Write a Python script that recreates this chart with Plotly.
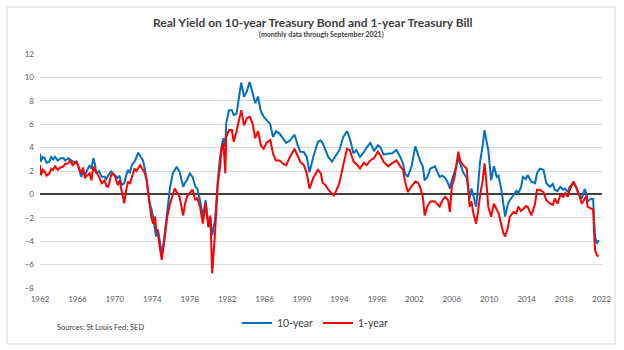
import plotly.graph_objects as go

# ---- data (x in decimal years) ----
ten_year_t = [1962.0,1962.1,1962.3,1962.5,1962.7,1963.0,1963.2,1963.4,1963.6,1963.9,1964.2,1964.5,1964.7,1965.0,1965.2,1965.5,1965.9,
 1966.1,1966.4,1966.6,1966.8,1967.0,1967.3,1967.5,1967.7,1967.9,1968.0,1968.3,1968.6,1968.9,1969.1,1969.3,1969.6,1969.8,
 1970.0,1970.3,1970.5,1970.7,1971.0,1971.2,1971.4,1971.6,1971.8,1972.1,1972.3,1972.5,1972.7,1973.0,1973.2,1973.4,1973.7,1973.9,
 1974.1,1974.4,1974.6,1974.8,1975.0,1975.2,1975.4,1975.6,1975.9,1976.2,1976.4,1976.6,1976.9,1977.1,1977.3,1977.5,1977.7,
 1978.0,1978.3,1978.6,1978.8,1979.1,1979.4,1979.7,1980.0,1980.2,1980.4,1980.7,1980.9,1981.0,1981.2,1981.4,1981.6,1981.8,1981.9,
 1982.2,1982.5,1982.7,1983.0,1983.3,1983.5,1983.8,1984.1,1984.4,1984.7,1985.0,1985.3,1985.6,1985.9,1986.2,1986.6,1986.9,
 1987.2,1987.6,1988.0,1988.3,1988.7,1989.2,1989.5,1989.8,1990.2,1990.5,1990.8,1991.2,1991.7,1992.0,1992.2,1992.5,1992.8,
 1993.2,1993.7,1994.0,1994.4,1994.8,1995.1,1995.5,1995.8,1996.2,1996.6,1996.9,1997.3,1997.7,1998.1,1998.4,1998.7,1999.2,
 1999.6,2000.1,2000.5,2000.8,2001.0,2001.3,2001.7,2002.1,2002.4,2002.6,2002.9,2003.1,2003.4,2003.7,2004.2,2004.7,2005.0,
 2005.3,2005.6,2005.8,2006.0,2006.3,2006.7,2006.9,2007.2,2007.6,2007.9,2008.1,2008.3,2008.6,2008.8,2009.0,2009.3,2009.5,
 2009.7,2009.9,2010.2,2010.5,2010.8,2011.0,2011.3,2011.5,2011.7,2012.0,2012.2,2012.6,2012.9,2013.1,2013.4,2013.6,2013.9,
 2014.1,2014.5,2014.9,2015.1,2015.4,2015.8,2016.1,2016.5,2016.8,2017.0,2017.3,2017.6,2017.9,2018.1,2018.4,2018.6,2019.0,
 2019.3,2019.5,2019.9,2020.2,2020.4,2020.5,2020.9,2021.1,2021.3,2021.5,2021.7]
ten_year = [3.5,2.8,3.2,3.1,2.7,2.8,3.2,3.0,3.2,2.9,3.1,3.1,2.9,3.1,3.0,2.8,2.8,
 2.4,1.5,2.0,1.65,2.0,2.5,2.2,3.1,2.5,1.8,2.0,1.5,1.5,1.3,1.65,1.95,1.7,
 1.65,1.4,1.6,0.8,0.95,1.6,2.1,1.8,2.5,2.8,3.2,3.56,3.3,2.9,2.2,1.2,-0.76,-1.2,
 -2.0,-3.6,-3.0,-4.0,-5.0,-4.2,-2.8,-1.05,0.65,1.8,2.1,2.37,1.95,1.4,0.65,1.0,1.2,
 1.8,1.5,0.65,0.5,-0.5,-1.9,-0.5,-2.8,-2.0,-3.5,-2.2,0.65,1.2,2.9,4.1,4.8,4.1,6.1,
 7.2,7.2,6.8,6.9,8.35,9.55,8.35,8.8,9.6,8.65,7.8,8.35,7.1,6.65,6.4,6.0,4.9,
 5.4,5.2,4.7,4.4,4.6,5.1,4.3,3.65,3.6,3.2,1.9,3.2,4.5,4.6,4.4,3.8,3.2,
 2.8,3.4,3.8,4.9,5.4,4.8,3.5,3.8,3.2,3.6,4.0,4.4,3.7,4.2,4.0,3.4,3.5,
 3.5,3.8,3.2,2.6,1.8,1.5,2.4,4.1,3.4,2.9,2.4,1.2,1.5,2.2,2.4,1.5,1.6,
 1.4,0.95,0.5,1.2,1.9,3.1,2.6,1.9,1.4,-0.35,0.5,-0.05,-1.05,0.6,2.65,4.2,5.5,
 4.6,3.8,1.2,2.4,1.5,1.6,0.4,-0.6,-1.9,-0.8,-0.5,-0.05,0.3,0.1,0.6,1.5,1.3,
 1.65,1.1,0.95,1.8,2.2,2.1,0.95,0.65,0.9,0.4,0.3,0.65,0.4,0.5,0.2,0.65,0.95,
 0.6,0.1,-0.35,0.45,0.0,-0.6,-0.35,-0.4,-3.6,-4.2,-3.9]

one_year_t = [1962.0,1962.1,1962.3,1962.5,1962.7,1963.0,1963.2,1963.4,1963.6,1963.9,1964.2,1964.5,1964.7,1965.0,1965.2,1965.5,1965.9,
 1966.1,1966.4,1966.6,1966.8,1967.0,1967.3,1967.5,1967.7,1967.9,1968.0,1968.3,1968.6,1968.9,1969.1,1969.3,1969.6,1969.8,
 1970.0,1970.3,1970.5,1970.7,1971.0,1971.2,1971.4,1971.6,1971.8,1972.1,1972.3,1972.5,1972.7,1973.0,1973.2,1973.4,1973.7,1973.9,
 1974.1,1974.3,1974.4,1974.6,1974.8,1975.0,1975.2,1975.4,1975.6,1975.9,1976.2,1976.4,1976.6,1976.9,1977.1,1977.3,1977.5,1977.7,
 1978.0,1978.3,1978.6,1978.8,1979.1,1979.4,1979.7,1980.0,1980.2,1980.4,1980.7,1980.9,1981.0,1981.2,1981.4,1981.6,1981.8,1981.9,
 1982.2,1982.5,1982.7,1983.0,1983.3,1983.5,1983.8,1984.1,1984.4,1984.7,1985.0,1985.3,1985.6,1985.9,1986.2,1986.6,1986.9,
 1987.2,1987.6,1988.0,1988.3,1988.7,1989.2,1989.5,1989.8,1990.2,1990.5,1990.8,1991.2,1991.7,1992.0,1992.2,1992.5,1992.8,
 1993.2,1993.4,1993.7,1994.0,1994.4,1994.8,1995.1,1995.5,1995.8,1996.2,1996.6,1996.9,1997.3,1997.7,1998.1,1998.4,1998.7,1999.2,
 1999.6,2000.1,2000.5,2000.8,2001.0,2001.3,2001.7,2002.1,2002.4,2002.6,2002.9,2003.1,2003.4,2003.7,2004.2,2004.7,2005.0,
 2005.3,2005.6,2005.8,2006.0,2006.3,2006.7,2006.9,2007.2,2007.6,2007.9,2008.1,2008.3,2008.6,2008.8,2009.0,2009.3,2009.5,
 2009.7,2009.9,2010.2,2010.5,2010.8,2011.0,2011.3,2011.5,2011.7,2012.0,2012.2,2012.6,2012.9,2013.1,2013.4,2013.6,2013.9,
 2014.1,2014.5,2014.9,2015.1,2015.4,2015.8,2016.1,2016.5,2016.8,2017.0,2017.3,2017.6,2017.9,2018.1,2018.4,2018.6,2019.0,
 2019.3,2019.5,2019.9,2020.2,2020.4,2020.5,2020.9,2021.1,2021.3,2021.5,2021.7]
one_year = [2.5,1.65,2.1,1.95,1.6,1.8,2.2,2.1,2.4,2.1,2.3,2.4,2.6,2.65,2.9,2.5,2.8,
 2.4,1.8,2.3,1.4,1.6,1.8,1.2,2.4,2.0,1.95,1.5,0.95,1.2,0.7,0.65,1.65,1.8,
 1.6,0.8,1.2,0.4,-0.76,0.3,1.1,0.9,1.5,2.2,2.0,2.3,2.5,2.1,1.8,1.2,-0.5,-2.0,
 -2.5,-1.9,-3.0,-3.3,-4.5,-5.6,-4.5,-3.3,-1.9,-0.76,0.1,0.5,0.2,-0.2,-1.0,-1.8,-0.8,-0.2,
 0.1,0.4,-0.5,-0.3,-1.05,-2.5,-0.76,-2.8,-1.8,-6.75,-3.3,0.1,0.95,2.1,3.8,4.4,1.8,4.9,
 5.5,5.5,4.5,5.4,6.5,7.2,5.9,6.5,6.65,6.1,4.8,5.4,4.2,3.9,4.4,4.65,3.5,
 2.9,2.9,2.6,2.5,3.2,3.9,3.3,2.8,2.5,1.8,0.5,1.4,2.1,1.8,1.0,0.8,0.4,
 0.1,-0.1,0.4,1.0,2.5,3.9,3.8,2.8,2.6,2.2,2.7,2.5,2.9,3.1,3.65,3.3,2.8,2.4,
 2.65,2.9,2.4,2.1,1.1,0.2,0.7,1.1,1.0,0.65,-0.2,-1.8,-1.0,-0.6,-0.6,-1.05,-0.5,
 -0.2,-0.5,-1.5,0.65,1.5,3.65,2.9,2.5,2.2,-1.05,-0.6,-1.6,-2.5,-1.5,-0.2,1.2,2.65,
 1.0,-1.05,-1.9,-0.8,-1.3,-1.6,-2.6,-3.3,-3.6,-2.8,-1.9,-1.5,-1.6,-1.05,-1.4,-1.3,-1.0,
 -1.05,-1.8,-0.8,0.4,0.4,0.2,-0.5,-0.8,-0.9,-0.35,-0.8,-0.05,-0.2,0.1,-0.2,0.4,1.1,
 0.6,0.2,-0.8,-0.35,-0.1,-1.05,-1.2,-1.3,-4.75,-5.2,-5.3]

x_tick_labels = [str(y) for y in range(1962, 2023, 4)]
x_tick_vals = list(range(1962, 2023, 4))
y_tick_vals = list(range(-8, 13, 2))

FONT = "Lato"
fig = go.Figure()
fig.add_trace(go.Scatter(x=ten_year_t, y=ten_year, mode="lines", name="10-year",
                         line=dict(color="#0070C0", width=2)))
fig.add_trace(go.Scatter(x=one_year_t, y=one_year, mode="lines", name="1-year",
                         line=dict(color="#FF0000", width=2)))

fig.update_layout(
    width=624, height=350,
    margin=dict(l=40, r=22, t=54, b=62),
    paper_bgcolor="white", plot_bgcolor="white",
    font=dict(family=FONT, color="#595959"),
    showlegend=True,
    legend=dict(orientation="h", x=0.49, xanchor="center", y=-0.15, yanchor="middle",
                font=dict(size=10.5, color="#404040", family=FONT),
                itemwidth=30, tracegroupgap=0, bgcolor="rgba(0,0,0,0)"),
    xaxis=dict(range=[1962, 2022.05], tickvals=x_tick_vals, ticktext=x_tick_labels,
               showgrid=False, zeroline=False, showline=False, ticks="",
               ticklabelstandoff=5,
               tickfont=dict(size=8, color="#595959", family=FONT)),
    yaxis=dict(range=[-8, 12], tickvals=y_tick_vals, showgrid=True,
               gridcolor="#D9D9D9", gridwidth=1,
               zeroline=True, zerolinecolor="#404040", zerolinewidth=1.5,
               showline=False, ticks="", ticklabelstandoff=5,
               tickfont=dict(size=8, color="#595959", family=FONT)),
)

fig.add_annotation(text="<b>Real Yield on 10-year Treasury Bond and 1-year Treasury Bill</b>",
                   xref="paper", yref="paper", x=(313-40)/562, y=(288-22)/234,
                   xanchor="center", yanchor="middle", showarrow=False,
                   font=dict(size=12, color="#404040", family=FONT))
fig.add_annotation(text="<b>(monthly data through September 2021)</b>",
                   xref="paper", yref="paper", x=(321-40)/562, y=(288-34)/234,
                   xanchor="center", yanchor="middle", showarrow=False,
                   font=dict(size=7, color="#404040", family=FONT))
fig.add_annotation(text="Sources: St Louis Fed; SED",
                   xref="paper", yref="paper", x=(55-40)/562, y=(288-327)/234,
                   xanchor="left", yanchor="middle", showarrow=False,
                   font=dict(size=7.5, color="#404040", family=FONT))
# chart-area border
fig.add_shape(type="rect", xref="paper", yref="paper",
              x0=(7-40)/562, x1=(615-40)/562, y0=(288-344)/234, y1=(288-7)/234,
              line=dict(color="#D9D9D9", width=1), fillcolor="rgba(0,0,0,0)", layer="below")

fig.write_html("out.html")
